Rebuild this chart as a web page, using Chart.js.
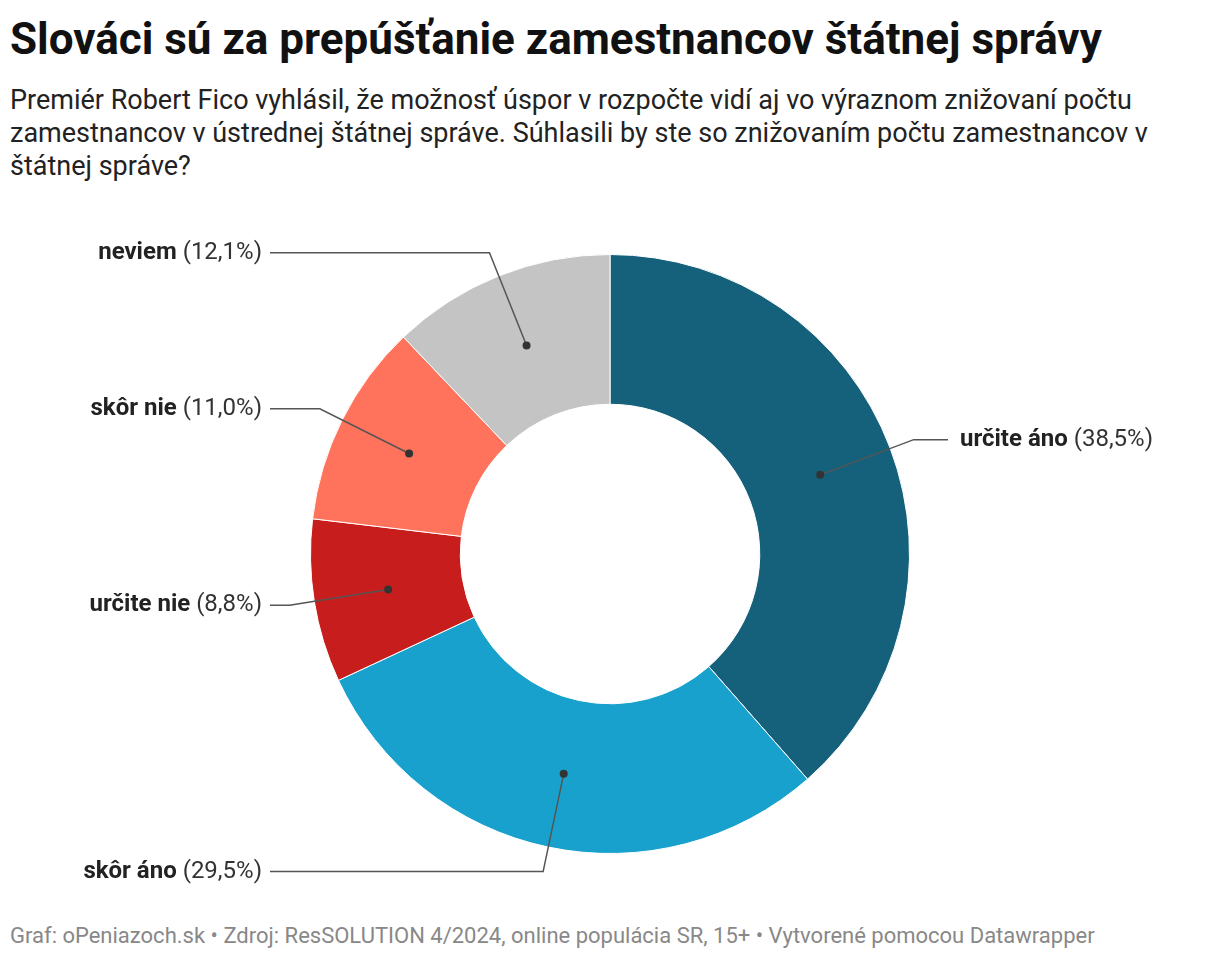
<!DOCTYPE html>
<html lang="sk">
<head>
<meta charset="utf-8">
<script src="https://cdn.jsdelivr.net/npm/chart.js@4"></script>
<style>
  body { margin: 0; background: #fff; font-family: Roboto, sans-serif; color: #222; }
  #head { position: absolute; left: 10px; top: 0; width: 1200px; }
  h1 { margin: 12px 0 0 0; font-size: 44px; font-weight: 700; color: #111; line-height: 54px; }
  p.sub { margin: 18px 0 0 0; font-size: 27px; line-height: 33px; color: #222; }
  #box { position: absolute; left: 0; top: 200px; width: 1220px; height: 710px; }
  #foot { position: absolute; left: 10px; top: 923px; font-size: 22px; color: #888; }
</style>
</head>
<body>
<div id="head">
  <h1>Slováci sú za prepúšťanie zamestnancov štátnej správy</h1>
  <p class="sub">Premiér Robert Fico vyhlásil, že možnosť úspor v rozpočte vidí aj vo výraznom znižovaní počtu zamestnancov v ústrednej štátnej správe. Súhlasili by ste so znižovaním počtu zamestnancov v štátnej správe?</p>
</div>
<div id="box"><canvas id="donut"></canvas></div>
<div id="foot">Graf: oPeniazoch.sk • Zdroj: ResSOLUTION 4/2024, online populácia SR, 15+ • Vytvorené pomocou Datawrapper</div>

<script>
// odpovede a podiely v %
const categories = ["určite áno", "skôr áno", "určite nie", "skôr nie", "neviem"];
const values = [38.5, 29.5, 8.8, 11.0, 12.1];
const colors = ["#15617c", "#19a1cd", "#c71e1d", "#ff735c", "#c4c4c4"];

// popisky s vodiacimi ciarami
const leaderLabels = {
  id: 'leaderLabels',
  afterDraw(chart) {
    const ctx = chart.ctx;
    const meta = chart.getDatasetMeta(0);
    ctx.save();
    meta.data.forEach((arc, i) => {
      const p = arc.getProps(['x', 'y', 'startAngle', 'endAngle', 'innerRadius', 'outerRadius'], true);
      const mid = (p.startAngle + p.endAngle) / 2;
      const rDot = (p.innerRadius + p.outerRadius) / 2;
      const rElbow = p.outerRadius + 25;
      const dx = Math.cos(mid), dy = Math.sin(mid);
      const dotX = p.x + dx * rDot, dotY = p.y + dy * rDot;
      const elX = p.x + dx * rElbow, elY = p.y + dy * rElbow;
      const right = dx >= 0;
      const endX = right ? p.x + 338 : p.x - 340;

      ctx.strokeStyle = '#555';
      ctx.lineWidth = 1.5;
      ctx.beginPath();
      ctx.moveTo(dotX, dotY);
      ctx.lineTo(elX, elY);
      ctx.lineTo(endX, elY);
      ctx.stroke();

      ctx.fillStyle = '#333';
      ctx.beginPath();
      ctx.arc(dotX, dotY, 4, 0, Math.PI * 2);
      ctx.fill();

      const name = categories[i];
      const pct = ' (' + values[i].toFixed(1).replace('.', ',') + '%)';
      ctx.textBaseline = 'middle';
      ctx.font = '700 24px Roboto';
      const wName = ctx.measureText(name).width;
      ctx.font = '400 24px Roboto';
      const wPct = ctx.measureText(pct).width;
      let tx = right ? endX + 12 : endX - 8 - wName - wPct;
      ctx.textAlign = 'left';
      ctx.fillStyle = '#222';
      ctx.font = '700 24px Roboto';
      ctx.fillText(name, tx, elY);
      ctx.font = '400 24px Roboto';
      ctx.fillStyle = '#333';
      ctx.fillText(pct, tx + wName, elY);
    });
    ctx.restore();
  }
};

const chart = new Chart(document.getElementById('donut'), {
  type: 'doughnut',
  data: {
    labels: categories,
    datasets: [{
      data: values,
      backgroundColor: colors,
      borderColor: '#fff',
      borderWidth: 1,
      hoverOffset: 0
    }]
  },
  options: {
    responsive: true,
    maintainAspectRatio: false,
    animation: false,
    cutout: '50%',
    layout: { padding: { top: 54, bottom: 56, left: 0, right: 0 } },
    plugins: {
      legend: { display: false },
      tooltip: { enabled: false }
    }
  },
  plugins: [leaderLabels]
});
</script>
</body>
</html>
